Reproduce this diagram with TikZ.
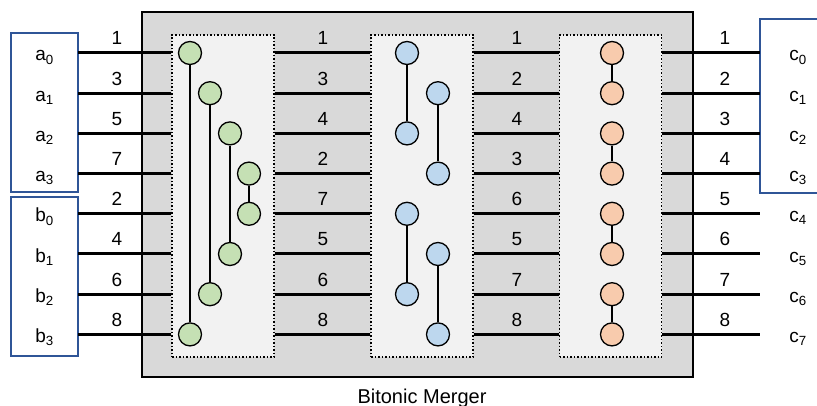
\documentclass[tikz,border=0pt]{standalone}
\usepackage{fontspec}
\setmainfont{Liberation Sans}
\usetikzlibrary{shapes,arrows}
\definecolor{mergergray}{HTML}{D9D9D9}
\definecolor{stagegray}{HTML}{F2F2F2}
\definecolor{portblue}{HTML}{2F5597}
\definecolor{cmpgreen}{HTML}{C5E0B4}
\definecolor{cmpblue}{HTML}{BDD7EE}
\definecolor{cmporange}{HTML}{F8CBAD}
\tikzset{%
	merger/.style	= {draw, line width = 2pt, rectangle, fill = mergergray, minimum width = 551pt, minimum height = 365pt},
	stage/.style	= {draw, dotted, line width = 1.5pt, rectangle, fill = stagegray, minimum width = 102pt, minimum height = 322pt},
	port/.style		= {draw = portblue, line width = 1.2pt, rectangle, minimum width = 67pt, minimum height = 159pt},
	cmp/.style		= {draw, line width = 1.3pt, circle, minimum size = 23pt, inner sep = 0pt}, % Comparator end
	wire/.style		= {line width = 3pt},
	link/.style		= {line width = 2pt},
	val/.style		= {anchor = base, inner sep = 0pt},
	input/.style	= {coordinate}, % Input
	output/.style	= {coordinate} % Output
}

\begin{document}
\begin{tikzpicture}[x = 1pt, y = -1pt, font = \fontsize{19}{22}\selectfont]
	\useasboundingbox (0, 0) rectangle (817, 406);

	\draw % Drawing the merger and its stages
	node at (417.5, 194.5) [merger] (merger) {}
	node at (223, 196) [stage] (gstage) {}
	node at (422, 196) [stage] (bstage) {}
	node at (610.5, 196) [stage] (ostage) {}
	node at (44.5, 112.5) [port] (aport) {}
	node at (44.5, 276.5) [port] (bport) {}
	node at (800, 106) [port, minimum width = 80pt, minimum height = 174pt] (cport) {}
	node at (422, 403) [val, font = \fontsize{20}{24}\selectfont] (title) {Bitonic Merger}
	;

	% Drawing the wires and the values on them
	\foreach \i/\y/\l/\k/\p/\q/\r/\s in {0/53/a/0/1/1/1/1, 1/93.2/a/1/3/3/2/2, 2/133.4/a/2/5/4/4/3, 3/173.6/a/3/7/2/3/4,
		4/213.8/b/0/2/7/6/5, 5/254/b/1/4/5/5/6, 6/294.2/b/2/6/6/7/7, 7/334.4/b/3/8/8/8/8} {
		\node at (78, \y) [input] (in\i) {};
		\node at (760, \y) [output] (out\i) {};
		\draw[wire] (in\i) -- (in\i -| gstage.west);
		\draw[wire] (in\i -| gstage.east) -- (in\i -| bstage.west);
		\draw[wire] (in\i -| bstage.east) -- (in\i -| ostage.west);
		\draw[wire] (in\i -| ostage.east) -- (out\i);
		\node at (44.5, \y + 8) [val] (lab\i) {\l\textsubscript{\k}};
		\node at (798, \y + 8) [val] (clab\i) {c\textsubscript{\i}};
		\node at (117, \y - 8) [val] (p\i) {\p};
		\node at (323, \y - 8) [val] (q\i) {\q};
		\node at (517, \y - 8) [val] (r\i) {\r};
		\node at (725, \y - 8) [val] (s\i) {\s};
	}

	\draw % Drawing the comparators
	node at (190, 53) [cmp, fill = cmpgreen] (gc0) {}
	node at (210, 93.2) [cmp, fill = cmpgreen] (gc1) {}
	node at (230, 133.4) [cmp, fill = cmpgreen] (gc2) {}
	node at (249, 173.6) [cmp, fill = cmpgreen] (gc3) {}
	node at (249, 213.8) [cmp, fill = cmpgreen] (gc4) {}
	node at (230, 254) [cmp, fill = cmpgreen] (gc5) {}
	node at (210, 294.2) [cmp, fill = cmpgreen] (gc6) {}
	node at (190, 334.4) [cmp, fill = cmpgreen] (gc7) {}
	node at (407, 53) [cmp, fill = cmpblue] (bc0) {}
	node at (438, 93.2) [cmp, fill = cmpblue] (bc1) {}
	node at (407, 133.4) [cmp, fill = cmpblue] (bc2) {}
	node at (438, 173.6) [cmp, fill = cmpblue] (bc3) {}
	node at (407, 213.8) [cmp, fill = cmpblue] (bc4) {}
	node at (438, 254) [cmp, fill = cmpblue] (bc5) {}
	node at (407, 294.2) [cmp, fill = cmpblue] (bc6) {}
	node at (438, 334.4) [cmp, fill = cmpblue] (bc7) {}
	node at (612, 53) [cmp, fill = cmporange] (oc0) {}
	node at (612, 93.2) [cmp, fill = cmporange] (oc1) {}
	node at (612, 133.4) [cmp, fill = cmporange] (oc2) {}
	node at (612, 173.6) [cmp, fill = cmporange] (oc3) {}
	node at (612, 213.8) [cmp, fill = cmporange] (oc4) {}
	node at (612, 254) [cmp, fill = cmporange] (oc5) {}
	node at (612, 294.2) [cmp, fill = cmporange] (oc6) {}
	node at (612, 334.4) [cmp, fill = cmporange] (oc7) {}
	;

	% Drawing the compare links
	\draw[link] (gc0) -- (gc7);
	\draw[link] (gc1) -- (gc6);
	\draw[link] (gc2) -- (gc5);
	\draw[link] (gc3) -- (gc4);
	\draw[link] (bc0) -- (bc2);
	\draw[link] (bc1) -- (bc3);
	\draw[link] (bc4) -- (bc6);
	\draw[link] (bc5) -- (bc7);
	\draw[link] (oc0) -- (oc1);
	\draw[link] (oc2) -- (oc3);
	\draw[link] (oc4) -- (oc5);
	\draw[link] (oc6) -- (oc7);
\end{tikzpicture}
\end{document}
